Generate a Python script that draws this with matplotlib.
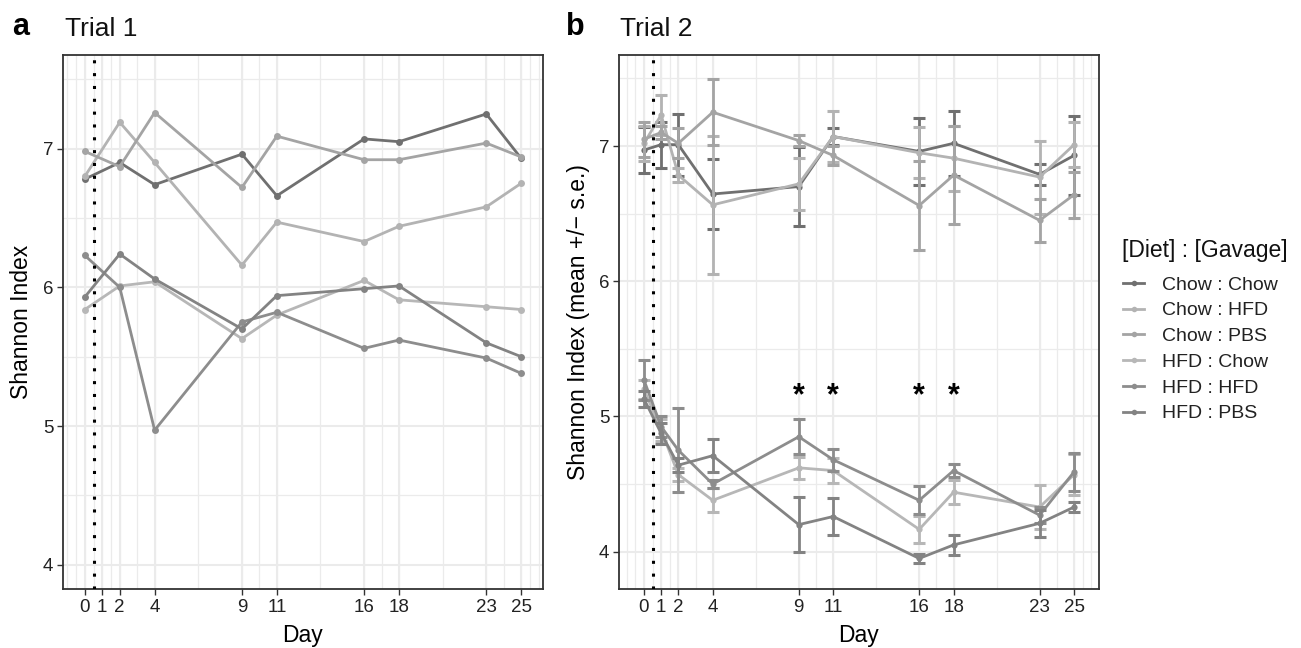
import matplotlib
matplotlib.use("Agg")
import matplotlib.pyplot as plt
from matplotlib.lines import Line2D
import numpy as np

plt.rcParams['font.family'] = ['Liberation Sans', 'DejaVu Sans']

# ---------------- data ----------------
groups = ["Chow : Chow", "Chow : HFD", "Chow : PBS", "HFD : Chow", "HFD : HFD", "HFD : PBS"]
colors = ["#707070", "#b3b3b3", "#a4a4a4", "#b7b7b7", "#8d8d8d", "#838383"]

x_breaks = [0, 1, 2, 4, 9, 11, 16, 18, 23, 25]

days_t1 = [0, 2, 4, 9, 11, 16, 18, 23, 25]
chow_chow_t1 = [6.78, 6.90, 6.74, 6.96, 6.66, 7.07, 7.05, 7.25, 6.93]
chow_hfd_t1 = [6.80, 7.19, 6.90, 6.16, 6.47, 6.33, 6.44, 6.58, 6.75]
chow_pbs_t1 = [6.98, 6.87, 7.26, 6.72, 7.09, 6.92, 6.92, 7.04, 6.94]
hfd_chow_t1 = [5.84, 6.01, 6.04, 5.63, 5.80, 6.05, 5.91, 5.86, 5.84]
hfd_hfd_t1 = [6.23, 6.00, 4.97, 5.75, 5.82, 5.56, 5.62, 5.49, 5.38]
hfd_pbs_t1 = [5.93, 6.24, 6.06, 5.70, 5.94, 5.99, 6.01, 5.60, 5.50]

days_t2 = [0, 1, 2, 4, 9, 11, 16, 18, 23, 25]
chow_chow_t2 = [6.97, 7.01, 7.01, 6.645, 6.70, 7.07, 6.96, 7.02, 6.79, 6.93]
chow_hfd_t2 = [7.02, 7.23, 6.785, 6.565, 6.72, 7.07, 6.95, 6.91, 6.77, 7.01]
chow_pbs_t2 = [7.05, 7.10, 7.02, 7.25, 7.04, 6.93, 6.56, 6.785, 6.45, 6.64]
hfd_chow_t2 = [5.20, 4.90, 4.57, 4.38, 4.62, 4.60, 4.165, 4.44, 4.33, 4.57]
hfd_hfd_t2 = [5.27, 4.925, 4.75, 4.50, 4.85, 4.68, 4.38, 4.60, 4.27, 4.59]
hfd_pbs_t2 = [5.13, 4.875, 4.64, 4.71, 4.20, 4.26, 3.95, 4.05, 4.21, 4.33]

chow_chow_se = [0.17, 0.17, 0.23, 0.26, 0.29, 0.065, 0.25, 0.24, 0.08, 0.29]
chow_hfd_se = [0.13, 0.15, 0.05, 0.51, 0.19, 0.19, 0.19, 0.24, 0.27, 0.165]
chow_pbs_se = [0.13, 0.05, 0.11, 0.245, 0.04, 0.07, 0.33, 0.36, 0.16, 0.17]
hfd_chow_se = [0.07, 0.08, 0.05, 0.09, 0.08, 0.09, 0.10, 0.09, 0.165, 0.15]
hfd_hfd_se = [0.15, 0.08, 0.31, 0.03, 0.13, 0.08, 0.105, 0.045, 0.06, 0.14]
hfd_pbs_se = [0.06, 0.08, 0.05, 0.12, 0.205, 0.135, 0.035, 0.075, 0.10, 0.04]

signif_days = [9, 11, 16, 18]
signif_y = 5.15

trial1 = [chow_chow_t1, chow_hfd_t1, chow_pbs_t1, hfd_chow_t1, hfd_hfd_t1, hfd_pbs_t1]
trial2 = [chow_chow_t2, chow_hfd_t2, chow_pbs_t2, hfd_chow_t2, hfd_hfd_t2, hfd_pbs_t2]
trial2_se = [chow_chow_se, chow_hfd_se, chow_pbs_se, hfd_chow_se, hfd_hfd_se, hfd_pbs_se]

# ---------------- figure ----------------
W, H = 1301, 648
fig = plt.figure(figsize=(W / 100, H / 100), dpi=100)

def fx(px):
    return px / W

def fy(py):
    return 1 - py / H

ax1 = fig.add_axes([fx(63), fy(589), fx(543) - fx(63), fy(55) - fy(589)])
ax2 = fig.add_axes([fx(619), fy(589), fx(1099) - fx(619), fy(55) - fy(589)])

def minor_breaks(b, lo, hi):
    b = list(b)
    bd = b[1] - b[0]
    ext = [b[0] - bd] + b + [b[-1] + bd]
    out = []
    for a, c in zip(ext[:-1], ext[1:]):
        out.append((a + c) / 2)
    out += ext
    return [v for v in out if lo <= v <= hi]

def style_axes(ax, xlim, ylim):
    ax.set_xlim(*xlim)
    ax.set_ylim(*ylim)
    ax.set_facecolor("white")
    grid_c = "#ebebeb"
    for v in minor_breaks(x_breaks, *xlim):
        ax.axvline(v, color=grid_c, lw=0.9, zorder=0)
    for v in [3.5, 4.5, 5.5, 6.5, 7.5]:
        if ylim[0] <= v <= ylim[1]:
            ax.axhline(v, color=grid_c, lw=0.9, zorder=0)
    for v in x_breaks:
        ax.axvline(v, color=grid_c, lw=1.5, zorder=0)
    for v in [4, 5, 6, 7]:
        ax.axhline(v, color=grid_c, lw=1.5, zorder=0)
    ax.set_xticks(x_breaks)
    ax.set_xticklabels([str(d) for d in x_breaks])
    ax.set_yticks([4, 5, 6, 7])
    ax.tick_params(axis='both', length=4, width=1.0, color="#333333",
                   labelsize=13.5, labelcolor="#222222", pad=3)
    for s in ax.spines.values():
        s.set_color("#333333")
        s.set_linewidth(1.3)
    ax.axvline(0.5, color="black", lw=2.2, linestyle=(0, (1, 3.2)),
               dash_capstyle="butt", zorder=5)

style_axes(ax1, (-1.25, 26.25), (3.825, 7.675))
style_axes(ax2, (-1.45, 26.45), (3.724, 7.673))

# Panel a
for vals, c in zip(trial1, colors):
    ax1.plot(days_t1, vals, color=c, lw=2.0, marker='o', markersize=5,
             markeredgewidth=0, zorder=3)

# Panel b
for vals, se, c in zip(trial2, trial2_se, colors):
    ax2.errorbar(days_t2, vals, yerr=se, fmt='none', ecolor=c,
                 elinewidth=2.0, capsize=4.0, capthick=2.2, zorder=3)
    ax2.plot(days_t2, vals, color=c, lw=2.0, marker='o', markersize=4.5,
             markeredgewidth=0, zorder=3)

for d in signif_days:
    ax2.text(d, signif_y, "*", ha="center", va="center", fontsize=22,
             fontweight="bold", color="black", zorder=6)

# Titles and labels
fig.text(fx(12), fy(35), "a", fontsize=22, fontweight="bold", ha="left", va="baseline")
fig.text(fx(65), fy(36), "Trial 1", fontsize=19, ha="left", va="baseline", color="#111111")
fig.text(fx(566), fy(35), "b", fontsize=22, fontweight="bold", ha="left", va="baseline")
fig.text(fx(620), fy(36), "Trial 2", fontsize=19, ha="left", va="baseline", color="#111111")

fig.text(fx(303), fy(642), "Day", fontsize=16.5, ha="center", va="baseline")
fig.text(fx(859), fy(642), "Day", fontsize=16.5, ha="center", va="baseline")
fig.text(fx(22), fy(322), "Shannon Index", fontsize=16.5, rotation=90,
         ha="center", va="center")
fig.text(fx(578), fy(322), "Shannon Index (mean +/\u2212 s.e.)", fontsize=16.5,
         rotation=90, ha="center", va="center")

# Legend
fig.text(fx(1122), fy(257), "[Diet] : [Gavage]", fontsize=16.5, ha="left",
         va="baseline", color="#111111")
handles = [Line2D([0], [0], color=c, lw=2.0, marker='o', markersize=4,
                  markeredgewidth=0) for c in colors]
leg = fig.legend(handles, groups, loc="upper left",
                 bbox_to_anchor=(fx(1123), fy(276)), frameon=False,
                 fontsize=14, handlelength=1.1,
                 handletextpad=0.9, labelspacing=0.42,
                 borderpad=0.0, borderaxespad=0.0)
for t in leg.get_texts():
    t.set_color("#222222")

fig.savefig("out.png", dpi=100)
